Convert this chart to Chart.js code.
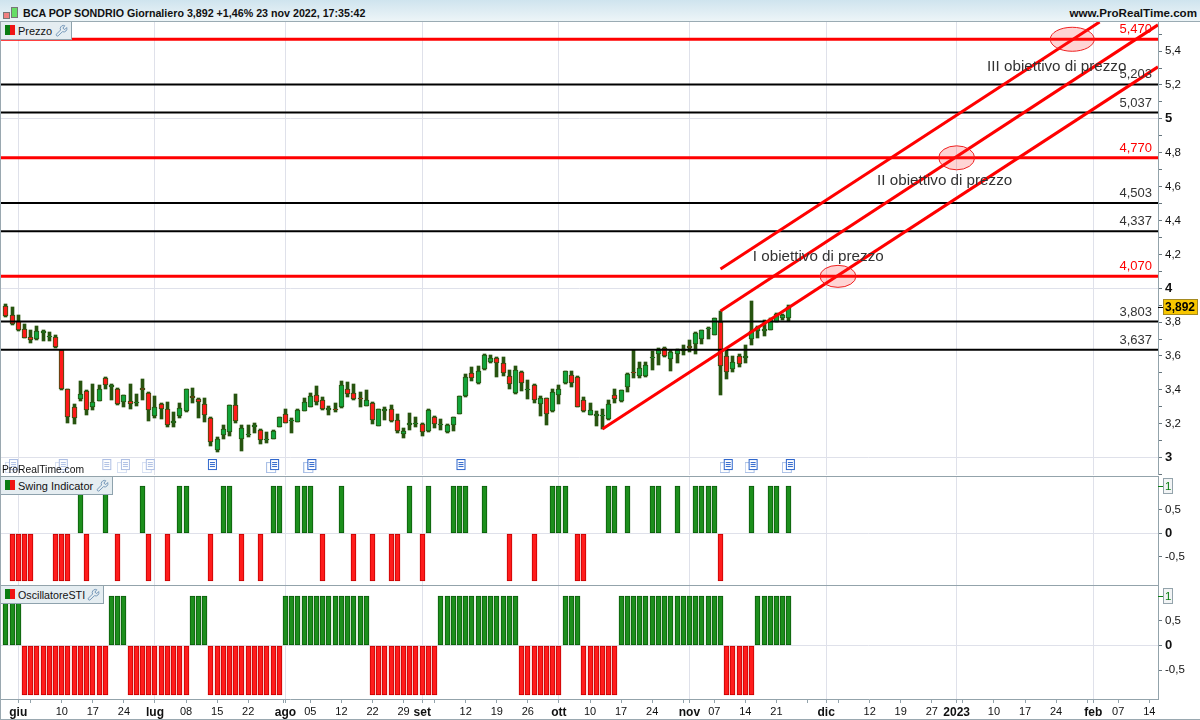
<!DOCTYPE html>
<html>
<head>
<meta charset="utf-8">
<title>BCA POP SONDRIO</title>
<script src="https://cdn.jsdelivr.net/npm/chart.js@4"></script>
<style>
    html, body { margin: 0; padding: 0; background: #fff; }
    body { width: 1200px; height: 720px; position: relative; overflow: hidden; font-family: "Liberation Sans", Arial, sans-serif; }
    canvas { position: absolute; left: 0; }
    #header { position: absolute; left: 0; top: 0; width: 1200px; height: 21px; background: linear-gradient(#cfe4ee, #edf5f8); border-bottom: 1px solid #9aabb3; z-index: 3; font-weight: bold; color: #111; line-height: 26px; }
    #title { position: absolute; left: 23px; top: 0; font-size: 10.7px; }
    #site { position: absolute; right: 3px; top: 0; font-size: 11.6px; }
    .candle { position: absolute; border: 1px solid #777; }
    .tag { position: absolute; left: 0; height: 17px; background: #e5edf1; border-right: 1px solid #8ea2ad; border-bottom: 1px solid #8ea2ad; font-size: 11px; line-height: 18px; color: #111; z-index: 3; white-space: nowrap; }
    .tag i { position: absolute; left: 5px; top: 3px; width: 5px; height: 10px; background: #0a7d12; border-right: 5px solid #f01414; }
    .tag span { position: absolute; left: 18px; top: 0; }
    .tag svg { position: absolute; top: 2px; right: 3px; width: 13px; height: 13px; }
    .sep { position: absolute; left: 0; width: 1158px; height: 1px; background: #93a3ab; z-index: 2; }
    #prt { position: absolute; left: 2px; top: 464px; font-size: 10.3px; color: #111; z-index: 2; }
    #edge { position: absolute; left: 0; top: 22px; width: 1px; height: 697px; background: #9aa8b0; z-index: 4; }
    #foot { position: absolute; left: 0; top: 719px; width: 1200px; height: 1px; background: #9aa8b0; z-index: 4; }
</style>
</head>
<body>
<div id="header">
    <div class="candle" style="left:3px;top:12px;width:5px;height:5px;background:#f08080"></div>
    <div class="candle" style="left:11px;top:7px;width:5px;height:9px;background:#66dd66"></div>
    <div id="title">BCA POP SONDRIO Giornaliero 3,892 +1,46% 23 nov 2022, 17:35:42</div>
    <div id="site">www.ProRealTime.com</div>
</div>
<div id="edge"></div>
<div id="foot"></div>
<div class="sep" style="top:476px"></div>
<div class="sep" style="top:585px"></div>
<div class="tag" style="top:22px;width:71px"><i></i><span>Prezzo</span><svg viewBox="0 0 14 14"><path d="M9 1.5a3.5 3.5 0 0 0-3 5L1.5 11a1.3 1.3 0 0 0 1.8 1.8L8 8.300a3.500 3.500 0 0 0 4.600-4.500L10.500 6 8.500 4.500l2-2.700A3 3 0 0 0 9 1.500z" fill="none" stroke="#6f93b5"/></svg></div>
<div class="tag" style="top:477px;width:112px"><i></i><span>Swing Indicator</span><svg viewBox="0 0 14 14"><path d="M9 1.5a3.5 3.5 0 0 0-3 5L1.5 11a1.3 1.3 0 0 0 1.8 1.8L8 8.300a3.500 3.500 0 0 0 4.600-4.500L10.500 6 8.500 4.500l2-2.700A3 3 0 0 0 9 1.500z" fill="none" stroke="#6f93b5"/></svg></div>
<div class="tag" style="top:586px;width:103px"><i></i><span style="font-size:10.7px">OscillatoreSTI</span><svg viewBox="0 0 14 14"><path d="M9 1.5a3.5 3.5 0 0 0-3 5L1.5 11a1.3 1.3 0 0 0 1.8 1.8L8 8.300a3.500 3.500 0 0 0 4.600-4.500L10.500 6 8.500 4.500l2-2.700A3 3 0 0 0 9 1.500z" fill="none" stroke="#6f93b5"/></svg></div>
<div id="prt">ProRealTime.com</div>

<canvas id="price-chart" style="top:22px" width="1200" height="453"></canvas>
<canvas id="swing-chart" style="top:476px" width="1200" height="109"></canvas>
<canvas id="sti-chart" style="top:585px" width="1200" height="135"></canvas>

<script>
// Sessions are numbered from 1 June 2022 (session 0); the first two bars are from May
const firstSession = -2;

const opens = [
    3.894, 3.839, 3.804, 3.757, 3.713, 3.698, 3.733, 3.709, 3.709, 3.634,
    3.402, 3.301, 3.347, 3.394, 3.300, 3.335, 3.467, 3.414, 3.406, 3.331,
    3.335, 3.321, 3.408, 3.382, 3.246, 3.319, 3.284, 3.205, 3.246, 3.272,
    3.365, 3.347, 3.319, 3.232, 3.043, 3.136, 3.152, 3.313, 3.112, 3.134,
    3.179, 3.164, 3.104, 3.111, 3.182, 3.255, 3.213, 3.211, 3.276, 3.300,
    3.367, 3.337, 3.278, 3.288, 3.298, 3.402, 3.379, 3.353, 3.306, 3.322,
    3.188, 3.272, 3.284, 3.219, 3.142, 3.194, 3.198, 3.196, 3.156, 3.241,
    3.190, 3.150, 3.194, 3.259, 3.363, 3.497, 3.440, 3.523, 3.562, 3.590,
    3.556, 3.479, 3.379, 3.503, 3.399, 3.428, 3.317, 3.349, 3.272, 3.372,
    3.439, 3.485, 3.477, 3.341, 3.252, 3.248, 3.246, 3.225, 3.370, 3.335,
    3.418, 3.506, 3.481, 3.481, 3.585, 3.609, 3.646, 3.583, 3.609, 3.632,
    3.660, 3.668, 3.701, 3.759, 3.725, 3.798, 3.597, 3.520, 3.597, 3.585,
    3.701, 3.749, 3.749, 3.753, 3.798, 3.827, 3.825
];
const highs = [
    3.906, 3.887, 3.841, 3.788, 3.753, 3.776, 3.753, 3.741, 3.723, 3.638,
    3.404, 3.319, 3.451, 3.398, 3.437, 3.428, 3.473, 3.437, 3.410, 3.367,
    3.437, 3.374, 3.463, 3.386, 3.363, 3.325, 3.331, 3.268, 3.325, 3.402,
    3.408, 3.349, 3.349, 3.238, 3.120, 3.191, 3.313, 3.374, 3.191, 3.191,
    3.203, 3.166, 3.150, 3.162, 3.241, 3.286, 3.231, 3.284, 3.349, 3.381,
    3.422, 3.357, 3.304, 3.322, 3.450, 3.446, 3.434, 3.387, 3.398, 3.328,
    3.286, 3.298, 3.310, 3.257, 3.174, 3.263, 3.239, 3.202, 3.284, 3.243,
    3.227, 3.196, 3.239, 3.365, 3.493, 3.532, 3.540, 3.611, 3.603, 3.592,
    3.592, 3.517, 3.538, 3.511, 3.458, 3.432, 3.363, 3.353, 3.404, 3.426,
    3.514, 3.510, 3.481, 3.355, 3.321, 3.274, 3.286, 3.337, 3.402, 3.398,
    3.502, 3.634, 3.562, 3.562, 3.628, 3.644, 3.650, 3.634, 3.640, 3.664,
    3.692, 3.739, 3.753, 3.770, 3.827, 3.865, 3.638, 3.599, 3.609, 3.664,
    3.924, 3.776, 3.812, 3.822, 3.851, 3.847, 3.898
];
const lows = [
    3.831, 3.784, 3.749, 3.707, 3.678, 3.694, 3.690, 3.690, 3.646, 3.398,
    3.205, 3.197, 3.335, 3.252, 3.280, 3.333, 3.406, 3.339, 3.311, 3.300,
    3.288, 3.305, 3.339, 3.217, 3.234, 3.229, 3.181, 3.181, 3.234, 3.270,
    3.323, 3.234, 3.211, 3.069, 3.034, 3.110, 3.128, 3.205, 3.039, 3.122,
    3.146, 3.081, 3.087, 3.107, 3.180, 3.202, 3.144, 3.209, 3.274, 3.300,
    3.312, 3.280, 3.251, 3.270, 3.292, 3.357, 3.339, 3.300, 3.304, 3.199,
    3.186, 3.221, 3.211, 3.144, 3.117, 3.162, 3.180, 3.129, 3.152, 3.174,
    3.162, 3.144, 3.156, 3.257, 3.359, 3.454, 3.436, 3.517, 3.556, 3.477,
    3.483, 3.404, 3.375, 3.393, 3.345, 3.323, 3.244, 3.193, 3.270, 3.317,
    3.435, 3.418, 3.299, 3.270, 3.250, 3.185, 3.166, 3.223, 3.323, 3.331,
    3.388, 3.471, 3.471, 3.473, 3.516, 3.546, 3.595, 3.512, 3.558, 3.607,
    3.623, 3.611, 3.670, 3.699, 3.721, 3.370, 3.465, 3.506, 3.536, 3.560,
    3.666, 3.705, 3.719, 3.753, 3.798, 3.812, 3.808
];
const closes = [
    3.835, 3.788, 3.753, 3.707, 3.694, 3.745, 3.749, 3.717, 3.654, 3.402,
    3.240, 3.232, 3.378, 3.278, 3.331, 3.404, 3.430, 3.426, 3.315, 3.367,
    3.319, 3.331, 3.396, 3.280, 3.296, 3.284, 3.193, 3.215, 3.290, 3.402,
    3.349, 3.331, 3.252, 3.093, 3.112, 3.171, 3.313, 3.217, 3.177, 3.142,
    3.191, 3.101, 3.112, 3.156, 3.237, 3.205, 3.221, 3.280, 3.331, 3.363,
    3.328, 3.284, 3.290, 3.278, 3.428, 3.373, 3.343, 3.345, 3.337, 3.223,
    3.284, 3.284, 3.213, 3.158, 3.154, 3.203, 3.207, 3.152, 3.280, 3.200,
    3.200, 3.192, 3.237, 3.361, 3.473, 3.471, 3.511, 3.607, 3.586, 3.560,
    3.497, 3.436, 3.515, 3.438, 3.406, 3.341, 3.351, 3.260, 3.390, 3.406,
    3.514, 3.443, 3.301, 3.272, 3.278, 3.258, 3.254, 3.319, 3.343, 3.396,
    3.491, 3.498, 3.526, 3.546, 3.593, 3.638, 3.601, 3.621, 3.636, 3.640,
    3.646, 3.733, 3.751, 3.766, 3.824, 3.538, 3.508, 3.567, 3.554, 3.597,
    3.749, 3.772, 3.757, 3.818, 3.847, 3.841, 3.892
];

// Swing Indicator: sessions with a +1 or a -1 bar
const swingUp = [
    10, 14, 20, 26, 27, 33, 34, 41, 42, 45, 46, 47, 52, 63, 66, 70, 71, 72, 75,
    86, 87, 88, 95, 96, 98, 102, 103, 106, 109, 110, 111, 112, 118, 121, 122, 124
];
const swingDown = [
    -1, 0, 1, 2, 6, 7, 8, 11, 16, 21, 24, 31, 36, 39, 49, 54, 57, 60, 61, 65, 79, 83, 90, 91, 113
];

// OscillatoreSTI: one value per session
const stiValues = [
    1, 1, 1,
    -1, -1, -1, -1, -1, -1, -1, -1, -1, -1, -1, -1, -1, -1,
    1, 1, 1,
    -1, -1, -1, -1, -1, -1, -1, -1, -1, -1,
    1, 1, 1,
    -1, -1, -1, -1, -1, -1, -1, -1, -1, -1, -1, -1,
    1, 1, 1, 1, 1, 1, 1, 1, 1, 1, 1, 1, 1, 1,
    -1, -1, -1, -1, -1, -1, -1, -1, -1, -1, -1,
    1, 1, 1, 1, 1, 1, 1, 1, 1, 1, 1, 1, 1,
    -1, -1, -1, -1, -1, -1, -1,
    1, 1, 1,
    -1, -1, -1, -1, -1, -1,
    1, 1, 1, 1, 1, 1, 1, 1, 1, 1, 1, 1, 1, 1, 1, 1, 1,
    -1, -1, -1, -1, -1,
    1, 1, 1, 1, 1, 1
];

// Horizontal levels
const targetLevels = [5.470, 4.770, 4.070];
const supportLevels = [5.203, 5.037, 4.503, 4.337, 3.803, 3.637];

// Rising channel: [from session, from price, to session, to price]
const channelLines = [
    [94, 3.168, 183.4, 5.307],
    [113, 3.865, 183.4, 5.555],
    [113, 4.113, 174, 5.572]
];

// Price objectives
const objectiveLabels = ['I obiettivo di prezzo', 'II obiettivo di prezzo', 'III obiettivo di prezzo'];
const objectiveLabelSessions = [118.2, 138.2, 155.9];
const objectiveLabelPrices = [4.161, 4.610, 5.283];
const objectiveSessions = [131.9, 151, 169.6];
const objectivePrices = [4.070, 4.770, 5.470];

// News markers along the bottom of the price panel
const fadedDocs = [-1, 7, 17, 21];
const fadedSingleDocs = [14];
const strongDocs = [41, 47, 114, 118, 124];
const strongSingleDocs = [31, 71];

// Date axis
const axisSessions = [0, 7, 12, 17, 22, 27, 32, 37, 43, 47, 52, 57, 62, 65, 72, 77, 82, 87, 92, 97, 102, 108, 112, 117, 122, 130, 137, 142, 147, 151, 157, 162, 167, 173, 177, 182];
const axisLabels = ['giu', '10', '17', '24', 'lug', '08', '15', '22', 'ago', '05', '12', '22', '29', 'set', '12', '19', '26', 'ott', '10', '17', '24', 'nov', '07', '14', '21', 'dic', '12', '19', '27', '2023', '10', '17', '24', 'feb', '07', '14'];
const minorSessions = [2, 42.7, 67, 107, 127, 132, 152, 172];
const monthSessions = [0, 22, 43, 65, 87, 108, 130, 151, 173];

const lastPrice = 3.892;

// Scale ranges shared by the panels
const sessionMin = -2.78;
const sessionMax = 183.4;

const GRID = '#dfe1ea';
const FRAME = '#93a3ab';
const WICK = '#27540f';
const UP = '#12a53c';
const DOWN = '#ff1a1a';
const BAR_GREEN = '#1c8f1c';
const BAR_GREEN_EDGE = '#0b5a0b';
const BAR_RED = '#ff1c1c';
const BAR_RED_EDGE = '#c40000';
const FONT = '"Liberation Sans", Arial, sans-serif';

const sessions = opens.map((_, i) => i + firstSession);

function comma(value, digits) {
    return value.toFixed(digits).replace('.', ',');
}

function tickValue(ctx) {
    return ctx.tick ? ctx.tick.value : NaN;
}

// Stop Chart.js reserving room for half a tick label at the plot ends
function noLabelPadding(scale) {
    scale.paddingTop = 0;
    scale.paddingBottom = 0;
    scale.paddingLeft = 0;
    scale.paddingRight = 0;
}

// Put bars on whole pixels so they stay crisp like the original
const snapBars = {
    id: 'snapBars',
    beforeDatasetsDraw(chart) {
        chart.getSortedVisibleDatasetMetas().forEach(meta => {
            if (meta.type !== 'bar') return;
            meta.data.forEach(bar => {
                bar.x = Math.floor(bar.x) + 0.5;
                bar.y = Math.round(bar.y);
                bar.base = Math.round(bar.base);
            });
        });
    }
};

// Boxed value in the axis gutter
const valueTag = {
    id: 'valueTag',
    afterDraw(chart, args, opts) {
        const ctx = chart.ctx;
        const y = Math.round(chart.scales.y.getPixelForValue(opts.value));
        const right = chart.chartArea.right;
        ctx.save();
        ctx.fillStyle = opts.fill;
        ctx.strokeStyle = opts.edge;
        ctx.fillRect(right + 5, y - 8, opts.width, 16);
        ctx.strokeRect(right + 5.5, y - 7.5, opts.width - 1, 15);
        ctx.strokeStyle = opts.color;
        ctx.beginPath();
        ctx.moveTo(right, y + 0.5);
        ctx.lineTo(right + 5, y + 0.5);
        ctx.stroke();
        ctx.fillStyle = opts.color;
        ctx.font = opts.font;
        ctx.textAlign = 'left';
        ctx.textBaseline = 'middle';
        ctx.fillText(opts.text, right + 7, y + 1);
        ctx.restore();
    }
};

// Level numbers, objective ellipses and objective labels on the price panel
const priceNotes = {
    id: 'priceNotes',
    afterDatasetsDraw(chart) {
        const ctx = chart.ctx;
        const { x, y } = chart.scales;
        ctx.save();
        ctx.textBaseline = 'alphabetic';

        objectiveSessions.forEach((session, i) => {
            ctx.beginPath();
            ctx.ellipse(x.getPixelForValue(session), y.getPixelForValue(objectivePrices[i]), i === 2 ? 22 : 18, i === 0 ? 11 : 12, 0, 0, Math.PI * 2);
            ctx.fillStyle = 'rgba(255, 40, 40, 0.2)';
            ctx.strokeStyle = '#ee2020';
            ctx.lineWidth = 1;
            ctx.fill();
            ctx.stroke();
        });

        ctx.font = '13px ' + FONT;
        ctx.textAlign = 'right';
        ctx.fillStyle = '#ff0000';
        targetLevels.forEach(level => ctx.fillText(comma(level, 3), 1152, y.getPixelForValue(level) - 6));
        ctx.fillStyle = '#333';
        supportLevels.forEach(level => ctx.fillText(comma(level, 3), 1152, y.getPixelForValue(level) - 6));

        ctx.font = '15.2px ' + FONT;
        ctx.textAlign = 'left';
        objectiveLabels.forEach((label, i) => {
            ctx.fillText(label, x.getPixelForValue(objectiveLabelSessions[i]), y.getPixelForValue(objectiveLabelPrices[i]));
        });
        ctx.restore();
    }
};

// News icon, used as a point style
function docIcon(color, backColor) {
    const icon = document.createElement('canvas');
    icon.width = 14;
    icon.height = 14;
    const c = icon.getContext('2d');
    if (backColor) {
        c.strokeStyle = backColor;
        c.fillStyle = '#fff';
        c.fillRect(0, 3, 9, 10);
        c.strokeRect(0.5, 3.5, 9, 10);
    }
    c.fillStyle = '#fff';
    c.fillRect(4, 0, 9, 11);
    c.strokeStyle = color;
    c.lineWidth = 1;
    c.strokeRect(4.5, 0.5, 8, 10);
    c.fillStyle = color;
    c.fillRect(6, 3, 5, 1);
    c.fillRect(6, 5, 5, 1);
    c.fillRect(6, 7, 5, 1);
    return icon;
}

function docDataset(list, icon) {
    return {
        type: 'line',
        showLine: false,
        data: list.map(session => ({ x: session, y: 2.95 })),
        pointStyle: icon,
        pointRadius: 7,
        order: 0,
        clip: false
    };
}

function levelDataset(level, color, width) {
    return {
        type: 'line',
        data: [{ x: sessionMin, y: level }, { x: sessionMax, y: level }],
        borderColor: color,
        borderWidth: width,
        pointRadius: 0,
        order: 2
    };
}

function indicatorDataset(points, color, edge) {
    return {
        type: 'bar',
        data: points,
        backgroundColor: color,
        borderColor: edge,
        borderWidth: 1,
        borderSkipped: false,
        barThickness: 5,
        grouped: false
    };
}

// Date axis shared by the panels; only the last panel shows its labels
function sessionAxis(showLabels) {
    return {
        type: 'linear',
        offset: false,
        min: sessionMin,
        max: sessionMax,
        afterBuildTicks(scale) {
            scale.ticks = axisSessions.concat(minorSessions).map(value => ({ value }));
        },
        afterFit(scale) {
            scale.height = showLabels ? 21 : 0;
            noLabelPadding(scale);
        },
        grid: {
            offset: false,
            color: ctx => monthSessions.includes(tickValue(ctx)) ? GRID : 'transparent',
            tickColor: FRAME,
            tickLength: 4,
            drawTicks: showLabels
        },
        border: { color: FRAME, width: 1 },
        ticks: {
            display: showLabels,
            autoSkip: false,
            maxRotation: 0,
            padding: 2,
            color: '#111',
            font: ctx => ({
                family: FONT,
                size: monthSessions.includes(tickValue(ctx)) ? 12 : 11,
                weight: monthSessions.includes(tickValue(ctx)) ? 'bold' : 'normal'
            }),
            callback: value => {
                const i = axisSessions.indexOf(value);
                return i < 0 ? '' : axisLabels[i];
            }
        }
    };
}

function valueAxis(min, max, step, isLabelled, isBold, hasTick) {
    return {
        position: 'right',
        min: min,
        max: max,
        afterFit(scale) {
            scale.width = 42;
            noLabelPadding(scale);
        },
        grid: {
            color: ctx => isBold(tickValue(ctx)) ? GRID : 'transparent',
            tickColor: ctx => hasTick(tickValue(ctx)) ? '#66757d' : 'transparent',
            tickLength: 4
        },
        border: { color: FRAME, width: 1 },
        ticks: {
            stepSize: step,
            includeBounds: false,
            autoSkip: false,
            padding: 3,
            color: '#111',
            font: ctx => ({
                family: FONT,
                size: isBold(tickValue(ctx)) ? 13 : 11.5,
                weight: isBold(tickValue(ctx)) ? 'bold' : 'normal'
            }),
            callback: value => {
                if (!isLabelled(value)) return '';
                return isBold(value) ? String(Math.round(value)) : comma(value, 1);
            }
        }
    };
}

function panelOptions(x, y, tag) {
    return {
        responsive: false,
        animation: false,
        events: [],
        layout: { autoPadding: false, padding: { left: 1, right: 0, top: 0, bottom: 0 } },
        plugins: { legend: { display: false }, tooltip: { enabled: false }, valueTag: tag || false },
        scales: { x: x, y: y }
    };
}

function roundTenth(v) {
    return Math.round(v * 10);
}

// Price panel
new Chart(document.getElementById('price-chart'), {
    type: 'bar',
    data: {
        datasets: [
            // Wicks
            {
                data: sessions.map((s, i) => ({ x: s, y: [lows[i], highs[i]] })),
                backgroundColor: WICK,
                borderWidth: 0,
                barThickness: 3,
                grouped: false,
                order: 5
            },
            // Bodies
            {
                data: sessions.map((s, i) => ({ x: s, y: [opens[i], closes[i]] })),
                backgroundColor: sessions.map((_, i) => closes[i] >= opens[i] ? UP : DOWN),
                borderColor: WICK,
                borderWidth: 1,
                borderSkipped: false,
                barThickness: 5,
                grouped: false,
                order: 4
            },
            ...supportLevels.map(level => levelDataset(level, '#000', 2)),
            ...targetLevels.map(level => levelDataset(level, '#ff0000', 3)),
            ...channelLines.map(line => ({
                type: 'line',
                data: [{ x: line[0], y: line[1] }, { x: line[2], y: line[3] }],
                borderColor: '#ff0000',
                borderWidth: 3,
                pointRadius: 0,
                order: 1
            })),
            docDataset(fadedDocs, docIcon('#aebfe4', '#d4def2')),
            docDataset(fadedSingleDocs, docIcon('#aebfe4')),
            docDataset(strongDocs, docIcon('#2e66cc', '#a9bfe6')),
            docDataset(strongSingleDocs, docIcon('#2e66cc'))
        ]
    },
    options: panelOptions(
        sessionAxis(false),
        valueAxis(2.897, 5.572, 0.1,
            v => roundTenth(v) % 2 === 0,
            v => roundTenth(v) % 10 === 0,
            () => true),
        { value: lastPrice, text: comma(lastPrice, 3), fill: '#f7c600', edge: '#a58a20', color: '#000', width: 35, font: 'bold 12px ' + FONT }
    ),
    plugins: [snapBars, valueTag, priceNotes]
});

// Lower panels: ticks at 0,5 steps, the 1 is a boxed tag and -1 is left off
const indicatorAxis = (min, max) => valueAxis(min, max, 0.5,
    v => v !== 1 && v !== -1,
    v => v === 0,
    v => v !== 1 && v !== -1);
const oneTag = { value: 1, text: '1', fill: '#f2f4f5', edge: '#93a3ab', color: '#0a7d12', width: 10, font: '11.5px ' + FONT };

// Swing Indicator
new Chart(document.getElementById('swing-chart'), {
    type: 'bar',
    data: {
        datasets: [
            indicatorDataset(swingUp.map(s => ({ x: s, y: 1 })), BAR_GREEN, BAR_GREEN_EDGE),
            indicatorDataset(swingDown.map(s => ({ x: s, y: -1 })), BAR_RED, BAR_RED_EDGE)
        ]
    },
    options: panelOptions(sessionAxis(false), indicatorAxis(-1.093, 1.211), oneTag),
    plugins: [snapBars, valueTag]
});

// OscillatoreSTI
new Chart(document.getElementById('sti-chart'), {
    type: 'bar',
    data: {
        datasets: [
            indicatorDataset(sessions.filter((_, i) => stiValues[i] > 0).map(s => ({ x: s, y: 1 })), BAR_GREEN, BAR_GREEN_EDGE),
            indicatorDataset(sessions.filter((_, i) => stiValues[i] < 0).map(s => ({ x: s, y: -1 })), BAR_RED, BAR_RED_EDGE)
        ]
    },
    options: panelOptions(sessionAxis(true), indicatorAxis(-1.087, 1.223), oneTag),
    plugins: [snapBars, valueTag]
});
</script>
</body>
</html>
